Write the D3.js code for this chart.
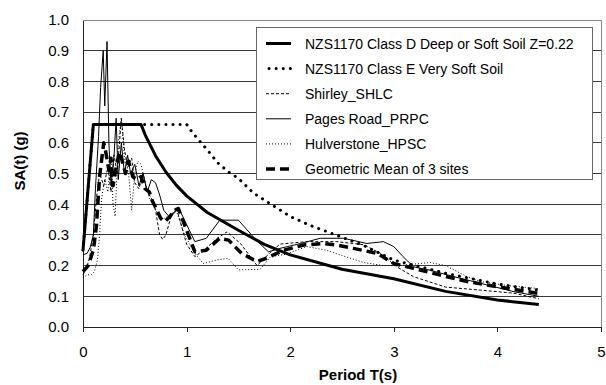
<!DOCTYPE html>
<html>
<head>
<meta charset="utf-8">
<script src="https://cdn.jsdelivr.net/npm/d3@7"></script>
<style>
  body { margin: 0; background: #fff; }
  svg { font-family: "Liberation Sans", Arial, sans-serif; }
</style>
</head>
<body>
<div id="chart"></div>
<script>
// periods (s) and spectral accelerations (g)
const classD = [[0,0.25],[0.1,0.66],[0.56,0.66],[0.6,0.626],[0.7,0.558],[0.8,0.505],[0.9,0.462],[1.0,0.427],[1.2,0.373],[1.5,0.315],[1.75,0.269],[2.0,0.235],[2.5,0.188],[3.0,0.157],[3.5,0.116],[4.0,0.088],[4.4,0.073]];
const classE = [[0,0.25],[0.1,0.66],[1.0,0.66],[1.05,0.636],[1.13,0.604],[1.2,0.577],[1.3,0.535],[1.4,0.506],[1.5,0.484],[1.65,0.435],[1.8,0.403],[2.0,0.36],[2.2,0.33],[2.4,0.305],[2.7,0.267],[3.0,0.218],[3.5,0.175],[4.0,0.14],[4.4,0.12]];
const shirley = [[0,0.17],[0.03,0.19],[0.06,0.22],[0.1,0.3],[0.13,0.42],[0.16,0.5],[0.2,0.46],[0.24,0.52],[0.27,0.44],[0.3,0.56],[0.33,0.5],[0.37,0.68],[0.4,0.58],[0.43,0.52],[0.47,0.55],[0.5,0.47],[0.54,0.45],[0.58,0.5],[0.62,0.44],[0.66,0.42],[0.7,0.38],[0.74,0.3],[0.77,0.285],[0.8,0.3],[0.85,0.36],[0.9,0.39],[0.95,0.33],[1.0,0.27],[1.08,0.229],[1.2,0.26],[1.3,0.29],[1.39,0.31],[1.52,0.272],[1.68,0.2],[1.8,0.24],[1.9,0.27],[2.16,0.278],[2.45,0.278],[2.71,0.268],[2.87,0.24],[3.03,0.196],[3.19,0.164],[3.5,0.13],[3.84,0.12],[4.16,0.11],[4.4,0.092]];
const pagesRoad = [[0,0.235],[0.04,0.24],[0.07,0.26],[0.1,0.3],[0.12,0.45],[0.15,0.62],[0.17,0.78],[0.195,0.9],[0.21,0.72],[0.232,0.93],[0.25,0.6],[0.27,0.46],[0.3,0.56],[0.32,0.68],[0.34,0.48],[0.37,0.6],[0.4,0.5],[0.43,0.56],[0.46,0.5],[0.5,0.53],[0.54,0.46],[0.58,0.5],[0.62,0.44],[0.66,0.48],[0.7,0.47],[0.74,0.43],[0.78,0.38],[0.83,0.36],[0.88,0.37],[0.92,0.39],[1.08,0.278],[1.19,0.289],[1.32,0.348],[1.5,0.348],[1.68,0.28],[1.79,0.245],[1.9,0.256],[2.1,0.272],[2.29,0.289],[2.515,0.289],[2.74,0.272],[2.9,0.278],[3.0,0.262],[3.09,0.229],[3.19,0.196],[3.35,0.185],[3.58,0.164],[3.84,0.142],[4.16,0.115],[4.4,0.1]];
const hulverstone = [[0,0.16],[0.04,0.17],[0.08,0.17],[0.11,0.18],[0.14,0.22],[0.16,0.3],[0.18,0.42],[0.21,0.48],[0.24,0.44],[0.27,0.55],[0.29,0.4],[0.31,0.36],[0.34,0.6],[0.37,0.68],[0.4,0.55],[0.44,0.5],[0.47,0.38],[0.5,0.5],[0.53,0.54],[0.56,0.53],[0.6,0.47],[0.64,0.42],[0.68,0.4],[0.72,0.37],[0.76,0.35],[0.82,0.36],[0.9,0.38],[0.98,0.3],[1.08,0.24],[1.16,0.207],[1.29,0.218],[1.4,0.224],[1.5,0.186],[1.71,0.188],[1.81,0.229],[1.96,0.237],[2.16,0.262],[2.35,0.25],[2.48,0.235],[2.71,0.21],[2.9,0.2],[3.05,0.2],[3.2,0.205],[3.35,0.21],[3.5,0.2],[3.7,0.165],[3.84,0.148],[4.1,0.135],[4.4,0.125]];
const geoMean = [[0,0.18],[0.05,0.2],[0.1,0.25],[0.13,0.33],[0.16,0.49],[0.2,0.6],[0.22,0.57],[0.25,0.51],[0.27,0.55],[0.29,0.46],[0.32,0.52],[0.35,0.57],[0.38,0.54],[0.41,0.5],[0.44,0.54],[0.48,0.49],[0.52,0.48],[0.56,0.49],[0.6,0.45],[0.64,0.44],[0.67,0.41],[0.7,0.39],[0.75,0.354],[0.79,0.343],[0.84,0.36],[0.88,0.38],[0.92,0.386],[1.08,0.245],[1.19,0.25],[1.32,0.289],[1.405,0.283],[1.53,0.24],[1.68,0.213],[1.77,0.224],[1.935,0.25],[2.13,0.267],[2.32,0.272],[2.45,0.267],[2.61,0.256],[2.84,0.24],[3.0,0.207],[3.19,0.191],[3.45,0.169],[3.71,0.148],[4.0,0.131],[4.4,0.109]];

const seriesNames = ['NZS1170 Class D Deep or Soft Soil Z=0.22', 'NZS1170 Class E Very Soft Soil', 'Shirley_SHLC', 'Pages Road_PRPC', 'Hulverstone_HPSC', 'Geometric Mean of 3 sites'];
const xTicks = [0, 1, 2, 3, 4, 5];
const yTicks = [0, 0.1, 0.2, 0.3, 0.4, 0.5, 0.6, 0.7, 0.8, 0.9, 1.0];

const styles = [
  { width: 3, dash: null, cap: 'butt' },
  { width: 3, dash: '0.1 7', cap: 'round' },
  { width: 1, dash: '3 2', cap: 'butt' },
  { width: 1, dash: null, cap: 'butt' },
  { width: 1, dash: '1 2', cap: 'butt' },
  { width: 3.5, dash: '9 5', cap: 'butt' }
];
const allSeries = [classD, classE, shirley, pagesRoad, hulverstone, geoMean];

const W = 606, H = 385;
const plotLeft = 83, plotRight = 601, plotTop = 20, plotBottom = 327;

const svg = d3.select('#chart').append('svg')
  .attr('width', W)
  .attr('height', H);

const x = d3.scaleLinear().domain([0, 5]).range([plotLeft, plotRight]);
const y = d3.scaleLinear().domain([0, 1]).range([plotBottom, plotTop]);

// gridlines
svg.append('g')
  .selectAll('line')
  .data(yTicks.slice(1, -1))
  .enter().append('line')
  .attr('x1', plotLeft).attr('x2', plotRight)
  .attr('y1', d => y(d)).attr('y2', d => y(d))
  .attr('stroke', '#3a3a3a')
  .attr('stroke-width', 1)
  .attr('shape-rendering', 'crispEdges');

// plot border (top, right)
svg.append('path')
  .attr('d', `M${plotLeft},${plotTop}H${plotRight}V${plotBottom}`)
  .attr('fill', 'none')
  .attr('stroke', '#8a8a8a')
  .attr('shape-rendering', 'crispEdges');

// axes
const xAxis = svg.append('g')
  .attr('transform', 'translate(0,' + plotBottom + ')')
  .call(d3.axisBottom(x).tickValues(xTicks).tickFormat(d3.format('d')).tickSize(5).tickSizeOuter(0));
const yAxis = svg.append('g')
  .attr('transform', 'translate(' + plotLeft + ',0)')
  .call(d3.axisLeft(y).tickValues(yTicks).tickFormat(d3.format('.1f')).tickSize(0).tickPadding(14).tickSizeOuter(0));

[xAxis, yAxis].forEach(a => {
  a.select('.domain').attr('stroke', '#222').attr('shape-rendering', 'crispEdges');
  a.selectAll('.tick line').attr('stroke', '#222').attr('shape-rendering', 'crispEdges');
  a.selectAll('text')
    .attr('font-family', '"Liberation Sans", Arial, sans-serif')
    .attr('font-size', 15)
    .attr('fill', '#000');
});
xAxis.selectAll('text').attr('dy', null).attr('y', 30);

// series lines
const line = d3.line()
  .x(d => x(d[0]))
  .y(d => y(d[1]));

svg.append('g')
  .selectAll('path')
  .data(allSeries)
  .enter().append('path')
  .attr('fill', 'none')
  .attr('stroke', '#000')
  .attr('stroke-linejoin', 'round')
  .attr('stroke-width', (d, i) => styles[i].width)
  .attr('stroke-dasharray', (d, i) => styles[i].dash)
  .attr('stroke-linecap', (d, i) => styles[i].cap)
  .attr('d', line);

// legend
const legend = svg.append('g');
legend.append('rect')
  .attr('x', 256.5).attr('y', 27.5)
  .attr('width', 336).attr('height', 152)
  .attr('fill', '#fff')
  .attr('stroke', '#666');

const rows = legend.selectAll('g.row')
  .data(seriesNames)
  .enter().append('g')
  .attr('class', 'row')
  .attr('transform', (d, i) => 'translate(0,' + (43.5 + i * 25.1) + ')');

rows.append('line')
  .attr('x1', (d, i) => i === 1 ? 269 : 266).attr('x2', 291)
  .attr('y1', 0).attr('y2', 0)
  .attr('stroke', '#000')
  .attr('stroke-width', (d, i) => styles[i].width)
  .attr('stroke-dasharray', (d, i) => styles[i].dash)
  .attr('stroke-linecap', (d, i) => styles[i].cap);

rows.append('text')
  .attr('x', 305)
  .attr('y', 5)
  .attr('font-size', 14)
  .text(d => d);

// axis titles
svg.append('text')
  .attr('x', 358).attr('y', 380)
  .attr('text-anchor', 'middle')
  .attr('font-size', 15)
  .attr('font-weight', 'bold')
  .text('Period T(s)');

svg.append('text')
  .attr('transform', 'translate(25,161) rotate(-90)')
  .attr('text-anchor', 'middle')
  .attr('font-size', 15)
  .attr('font-weight', 'bold')
  .text('SA(t) (g)');
</script>
</body>
</html>
